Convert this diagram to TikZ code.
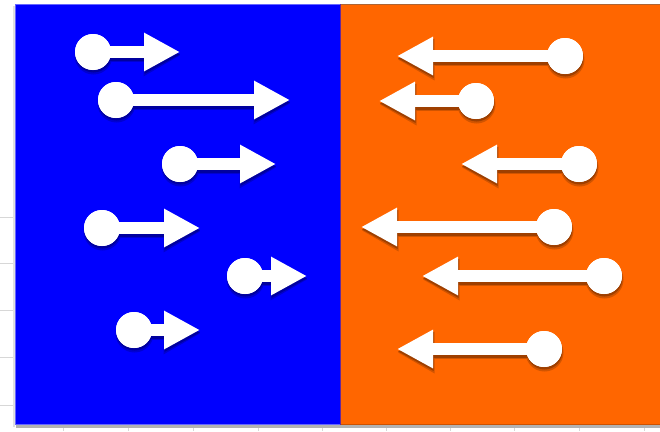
\documentclass[tikz,border=0pt]{standalone}
\usetikzlibrary{arrows.meta}
\definecolor{bblue}{RGB}{0,0,255}
\definecolor{borange}{RGB}{255,102,0}
\definecolor{gridgray}{RGB}{215,215,215}
\newcommand\arrowitem[5]{%
  % #1 name, #2 x, #3 y, #4 tip x, #5 background colour
  \fill[#5!82!black] (#2+0.5,#3+3.5) circle (19);
  \draw[#5!82!black, line width=13.5pt, -{Triangle[length=37pt,width=39pt]}] (#2+0.5,#3+3.5) -- (#4+0.5,#3+3.5);
  \fill[#5!62!black] (#2+0.5,#3+2.5) circle (18);
  \draw[#5!62!black, line width=12pt, -{Triangle[length=36pt,width=36pt]}] (#2+0.5,#3+2.5) -- (#4+0.5,#3+2.5);
  \node[dot] (#1) at (#2,#3) {};
  \coordinate (#1t) at (#4,#3);
  \draw[shaft] (#1.center) -- (#1t);
  \node[dot] at (#1) {};
}
\begin{document}
\begin{tikzpicture}[x=1pt,y=-1pt,
  dot/.style={circle,fill=white,minimum size=36pt,inner sep=0pt},
  shaft/.style={draw=white,line width=12pt,-{Triangle[length=36pt,width=36pt]}},
  gridline/.style={draw=gridgray,line width=0.8pt}]
\useasboundingbox (0,0) rectangle (660,431);
\fill[white] (0,0) rectangle (660,431);
% faint grid
\foreach \yy in {217,263,310,357,405} \draw[gridline] (0,\yy) -- (15,\yy);
\foreach \xx in {63,128,193,258,322,386,450,514,579,644} \draw[gridline] (\xx,425) -- (\xx,431);
% panel shadow
\fill[black!30] (16,425) rectangle (660,428);
\fill[black!12] (13,6) rectangle (15,427);
% panels
\fill[bblue] (15,4) rectangle (340,425);
\fill[borange] (340,4) rectangle (660,425);
\draw[blue!60!white, line width=1pt] (340,4.5) -- (15.5,4.5) -- (15.5,424.5) -- (340,424.5);
\draw[borange!60!black!80, line width=1pt] (340,4.5) -- (660,4.5);
\draw[borange!80!black, line width=0.8pt] (340,424.5) -- (660,424.5);
\draw[bblue!60!borange, line width=1pt] (340,4) -- (340,425);
% blue side arrows
\arrowitem{b1}{93}{52}{180}{bblue}
\arrowitem{b2}{116}{100}{290}{bblue}
\arrowitem{b3}{180}{164}{276}{bblue}
\arrowitem{b4}{102}{228}{200}{bblue}
\arrowitem{b5}{245}{276}{307}{bblue}
\arrowitem{b6}{134}{330}{200}{bblue}
% orange side arrows
\arrowitem{o1}{565}{56}{397}{borange}
\arrowitem{o2}{476}{101}{379}{borange}
\arrowitem{o3}{579}{164}{461}{borange}
\arrowitem{o4}{554}{227}{361}{borange}
\arrowitem{o5}{604}{276}{422}{borange}
\arrowitem{o6}{544}{349}{397}{borange}
\end{tikzpicture}
\end{document}
